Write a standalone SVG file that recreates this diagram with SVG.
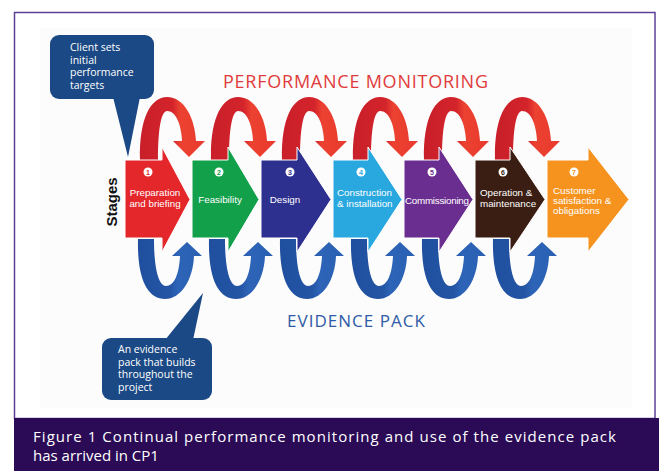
<svg xmlns="http://www.w3.org/2000/svg" xmlns:xlink="http://www.w3.org/1999/xlink" width="659" height="471" viewBox="0 0 659 471">
  <style>
    .callout { fill: #1b4985; }
    .callout-text { font-family: "Open Sans", "Noto Sans", sans-serif; font-size: 10.5px; fill: #ffffff; }
    .stage { stroke: #ffffff; stroke-width: 1; }
    .stage-label { font-family: "Liberation Sans", Arial, sans-serif; font-size: 9.8px; fill: #ffffff; }
    .num-dot { fill: #ffffff; }
    .num { font-family: "Liberation Sans", Arial, sans-serif; font-size: 7px; font-weight: bold; text-anchor: middle; }
    .banner { font-family: "Open Sans", "Noto Sans", sans-serif; }
    .caption { font-family: "Open Sans", "Noto Sans", sans-serif; font-size: 15px; fill: #ffffff; }
  </style>
  <defs>
    <linearGradient id="redGrad" x1="0" y1="0" x2="1" y2="0">
      <stop offset="0" stop-color="#c81f2a"/>
      <stop offset="0.5" stop-color="#d4242b"/>
      <stop offset="0.62" stop-color="#ec4231"/>
      <stop offset="1" stop-color="#e8392e"/>
    </linearGradient>
    <linearGradient id="blueGrad" x1="0" y1="0" x2="1" y2="0">
      <stop offset="0" stop-color="#1f4f9e"/>
      <stop offset="0.5" stop-color="#2455a5"/>
      <stop offset="0.62" stop-color="#2d64b7"/>
      <stop offset="1" stop-color="#2a60b2"/>
    </linearGradient>
    <!-- curved arrow over the stages, tip at x=0 -->
    <path id="arcTop" d="M -49,160 C -50,118 -38,97 -22,97 C -5,97 6,118 7,141 L 16,141 L 0,157 L -16,141 L -7,141 C -8,124 -13,111 -22,111 C -28,111 -31,130 -31,160 Z"/>
    <!-- curved arrow under the stages, tip at x=0 -->
    <path id="arcBottom" d="M -50,239 C -51,280 -40,299 -23,299 C -7,299 5,280 6,256 L 14,256 L -1,242 L -16,256 L -8,256 C -9,275 -14,286 -22,286 C -29,286 -34,270 -34,239 Z"/>
  </defs>

  <rect x="0" y="0" width="659" height="471" fill="#ffffff"/>
  <!-- frame and caption band -->
  <rect x="14.5" y="12.5" width="640.5" height="406" fill="#ffffff" stroke="#5c4197" stroke-width="1.5"/>
  <rect x="40" y="28" width="592" height="380" fill="#fcfcfc"/>
  <rect x="14" y="418" width="645" height="53" fill="#2b0b56"/>
  <g id="caption">
    <text class="caption" x="33" y="442" textLength="583">Figure 1 Continual performance monitoring and use of the evidence pack</text>
    <text class="caption" x="33" y="461">has arrived in CP1</text>
  </g>

  <!-- headings -->
  <text id="performance-monitoring" class="banner" x="223" y="88" font-size="18" fill="#e03b3b" textLength="265">PERFORMANCE MONITORING</text>
  <text id="evidence-pack" class="banner" x="287" y="327" font-size="17" fill="#2f5ba6" textLength="138">EVIDENCE PACK</text>

  <!-- connectors: monitoring loops above, evidence loops below -->
  <g id="connectors">
    <g fill="url(#redGrad)">
      <use xlink:href="#arcTop" transform="translate(189,0)"/>
      <use xlink:href="#arcTop" transform="translate(260,0)"/>
      <use xlink:href="#arcTop" transform="translate(331,0)"/>
      <use xlink:href="#arcTop" transform="translate(402,0)"/>
      <use xlink:href="#arcTop" transform="translate(473,0)"/>
      <use xlink:href="#arcTop" transform="translate(544,0)"/>
    </g>
    <g fill="url(#blueGrad)">
      <use xlink:href="#arcBottom" transform="translate(188,0)"/>
      <use xlink:href="#arcBottom" transform="translate(259,0)"/>
      <use xlink:href="#arcBottom" transform="translate(330,0)"/>
      <use xlink:href="#arcBottom" transform="translate(401,0)"/>
      <use xlink:href="#arcBottom" transform="translate(472,0)"/>
      <use xlink:href="#arcBottom" transform="translate(543,0)"/>
    </g>
  </g>

  <text id="stages-label" x="0" y="0" transform="translate(117,202) rotate(-90)" font-family="Liberation Sans, Arial, sans-serif" font-size="15" font-weight="bold" fill="#111111" text-anchor="middle">Stages</text>

  <g id="stage-1">
    <polygon class="stage" fill="#e4272b" points="125,160 162,160 162,147 190,199.5 162,252 162,238 125,238"/>
    <circle class="num-dot" cx="148" cy="172" r="4.5"/>
    <text class="num" x="148" y="174.5" fill="#e4272b">1</text>
    <text class="stage-label" x="155" y="196" text-anchor="middle">Preparation</text>
    <text class="stage-label" x="155" y="207" text-anchor="middle">and briefing</text>
  </g>
  <g id="stage-2">
    <polygon class="stage" fill="#12a04b" points="192,160 228,160 228,147 259,199.5 228,252 228,238 192,238"/>
    <circle class="num-dot" cx="219" cy="172" r="4.5"/>
    <text class="num" x="219" y="174.5" fill="#12a04b">2</text>
    <text class="stage-label" x="220" y="203" text-anchor="middle">Feasibility</text>
  </g>
  <g id="stage-3">
    <polygon class="stage" fill="#2e308f" points="261,160 297,160 297,147 331,199.5 297,252 297,238 261,238"/>
    <circle class="num-dot" cx="290" cy="172" r="4.5"/>
    <text class="num" x="290" y="174.5" fill="#2e308f">3</text>
    <text class="stage-label" x="285" y="203" text-anchor="middle">Design</text>
  </g>
  <g id="stage-4">
    <polygon class="stage" fill="#29a8e0" points="333,160 368,160 368,147 402,199.5 368,252 368,238 333,238"/>
    <circle class="num-dot" cx="361" cy="172" r="4.5"/>
    <text class="num" x="361" y="174.5" fill="#29a8e0">4</text>
    <text class="stage-label" x="337" y="196">Construction</text>
    <text class="stage-label" x="337" y="207">&amp; installation</text>
  </g>
  <g id="stage-5">
    <polygon class="stage" fill="#6a2d90" points="404,160 439,160 439,147 473,199.5 439,252 439,238 404,238"/>
    <circle class="num-dot" cx="432" cy="172" r="4.5"/>
    <text class="num" x="432" y="174.5" fill="#6a2d90">5</text>
    <text class="stage-label" x="405" y="204" textLength="64">Commissioning</text>
  </g>
  <g id="stage-6">
    <polygon class="stage" fill="#3a1e13" points="475,160 510,160 510,147 545,199.5 510,252 510,238 475,238"/>
    <circle class="num-dot" cx="503" cy="172" r="4.5"/>
    <text class="num" x="503" y="174.5" fill="#3a1e13">6</text>
    <text class="stage-label" x="480" y="196">Operation &amp;</text>
    <text class="stage-label" x="480" y="207">maintenance</text>
  </g>
  <g id="stage-7">
    <polygon class="stage" fill="#f6931e" points="547,160 588,160 588,147 629,199.5 588,252 588,238 547,238"/>
    <circle class="num-dot" cx="574" cy="172" r="4.5"/>
    <text class="num" x="574" y="174.5" fill="#f6931e">7</text>
    <text class="stage-label" x="553" y="194">Customer</text>
    <text class="stage-label" x="553" y="204">satisfaction &amp;</text>
    <text class="stage-label" x="553" y="214">obligations</text>
  </g>

  <g id="callout-targets">
    <rect class="callout" x="50" y="35" width="104" height="64" rx="9"/>
    <polygon class="callout" points="113,97 140,97 128,157"/>
    <text class="callout-text" x="70" y="51">Client sets</text>
    <text class="callout-text" x="70" y="63.5">initial</text>
    <text class="callout-text" x="70" y="76">performance</text>
    <text class="callout-text" x="70" y="88.5">targets</text>
  </g>

  <g id="callout-evidence">
    <rect class="callout" x="102" y="338" width="110" height="62" rx="9"/>
    <polygon class="callout" points="165,340 193,340 203,293"/>
    <text class="callout-text" x="118" y="353">An evidence</text>
    <text class="callout-text" x="118" y="365.5">pack that builds</text>
    <text class="callout-text" x="118" y="378">throughout the</text>
    <text class="callout-text" x="118" y="390.5">project</text>
  </g>
</svg>
